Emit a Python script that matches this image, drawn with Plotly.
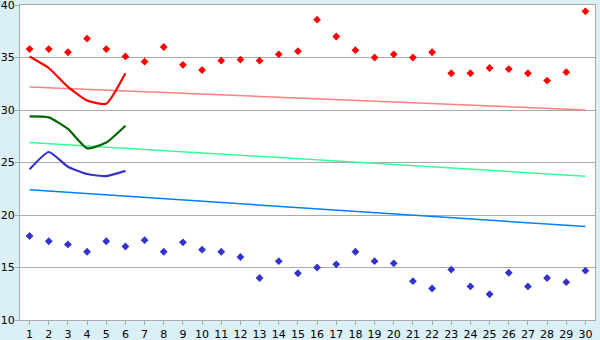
import plotly.graph_objects as go

days = list(range(1, 31))
high_pts = [35.8, 35.8, 35.5, 36.8, 35.8, 35.1, 34.6, 36.0, 34.3, 33.8,
            34.7, 34.8, 34.7, 35.3, 35.6, 38.6, 37.0, 35.7, 35.0, 35.3,
            35.0, 35.5, 33.5, 33.5, 34.0, 33.9, 33.5, 32.8, 33.6, 39.4]
low_pts = [18.0, 17.5, 17.2, 16.5, 17.5, 17.0, 17.6, 16.5, 17.4, 16.7,
           16.5, 16.0, 14.0, 15.6, 14.45, 15.0, 15.3, 16.5, 15.6, 15.4,
           13.7, 13.0, 14.8, 13.2, 12.45, 14.5, 13.2, 14.0, 13.6, 14.7]
short_days = [1, 2, 3, 4, 5, 6]
red_line = [35.1, 34.0, 32.2, 30.9, 30.6, 33.5]
green_line = [29.4, 29.3, 28.2, 26.35, 26.9, 28.5]
blue_line = [24.35, 26.0, 24.6, 23.9, 23.7, 24.2]
trend_x = [1, 30]
trend_red = [32.2, 30.0]
trend_green = [26.9, 23.7]
trend_blue = [22.4, 18.9]

fig = go.Figure()
fig.add_trace(go.Scatter(x=trend_x, y=trend_red, mode="lines", line=dict(color="#FF8080", width=1.5)))
fig.add_trace(go.Scatter(x=trend_x, y=trend_green, mode="lines", line=dict(color="#33FF99", width=1.5)))
fig.add_trace(go.Scatter(x=trend_x, y=trend_blue, mode="lines", line=dict(color="#0080FF", width=1.5)))
fig.add_trace(go.Scatter(x=short_days, y=red_line, mode="lines", line=dict(color="#FF0000", width=2.2, shape="spline", smoothing=0.5)))
fig.add_trace(go.Scatter(x=short_days, y=green_line, mode="lines", line=dict(color="#006400", width=2.2, shape="spline", smoothing=0.5)))
fig.add_trace(go.Scatter(x=short_days, y=blue_line, mode="lines", line=dict(color="#3333CC", width=2.2, shape="spline", smoothing=0.5)))
fig.add_trace(go.Scatter(x=days, y=high_pts, mode="markers", marker=dict(symbol="diamond", size=6, color="#FF0000")))
fig.add_trace(go.Scatter(x=days, y=low_pts, mode="markers", marker=dict(symbol="diamond", size=6, color="#3333CC")))

fig.update_layout(
    width=600, height=340,
    margin=dict(l=20, r=5, t=5, b=20),
    paper_bgcolor="#DAEFF6", plot_bgcolor="#FFFFFF",
    showlegend=False,
    font=dict(family="DejaVu Sans", size=11, color="#000000"),
)
fig.update_xaxes(range=[0.5, 30.5], tickmode="array", tickvals=days, ticktext=[str(d) for d in days],
                 showgrid=False, zeroline=False, showline=True, linecolor="#AAAAAA", linewidth=1,
                 mirror=True, ticks="outside", ticklen=4, tickcolor="#AAAAAA", automargin=False)
fig.update_yaxes(range=[10, 40], tickmode="array", tickvals=[10, 15, 20, 25, 30, 35, 40],
                 showgrid=True, gridcolor="#AAAAAA", gridwidth=1, zeroline=False,
                 showline=True, linecolor="#AAAAAA", linewidth=1, mirror=True,
                 ticks="outside", ticklen=4, tickcolor="#AAAAAA", ticklabeloverflow="allow",
                 ticklabelstandoff=-2, automargin=False)

fig.write_html("out.html")
